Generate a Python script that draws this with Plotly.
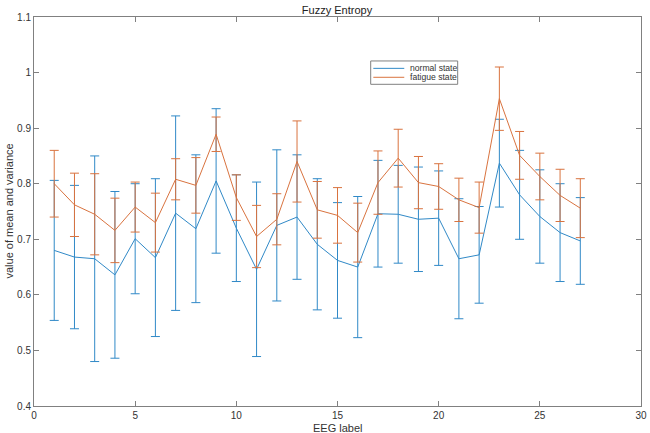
import plotly.graph_objects as go

eeg_label = list(range(1, 28))
normal_mean = [0.680, 0.668, 0.665, 0.636, 0.701, 0.667, 0.747, 0.719, 0.805, 0.720,
               0.646, 0.725, 0.740, 0.691, 0.662, 0.650, 0.746, 0.745, 0.736, 0.738,
               0.665, 0.672, 0.837, 0.780, 0.741, 0.712, 0.697]
normal_std = [0.126, 0.129, 0.185, 0.150, 0.099, 0.142, 0.175, 0.133, 0.130, 0.096,
              0.157, 0.136, 0.112, 0.118, 0.104, 0.127, 0.096, 0.088, 0.094, 0.085,
              0.108, 0.087, 0.079, 0.080, 0.084, 0.088, 0.078]
fatigue_mean = [0.800, 0.762, 0.745, 0.716, 0.758, 0.730, 0.808, 0.797, 0.889, 0.775,
                0.705, 0.736, 0.840, 0.753, 0.743, 0.712, 0.802, 0.846, 0.802, 0.795,
                0.771, 0.757, 0.953, 0.851, 0.813, 0.779, 0.756]
fatigue_std = [0.060, 0.057, 0.073, 0.058, 0.045, 0.053, 0.037, 0.050, 0.031, 0.041,
               0.056, 0.046, 0.073, 0.051, 0.050, 0.053, 0.057, 0.052, 0.047, 0.041,
               0.039, 0.046, 0.057, 0.043, 0.042, 0.047, 0.053]
series_names = ["normal state", "fatigue state"]
x_ticks = [0, 5, 10, 15, 20, 25, 30]
y_ticks = [0.4, 0.5, 0.6, 0.7, 0.8, 0.9, 1.0, 1.1]
y_tick_text = ["0.4", "0.5", "0.6", "0.7", "0.8", "0.9", "1", "1.1"]

BLUE = "#3089c7"
ORANGE = "#d9733f"
AXIS = "#808080"
TXT = "#333333"
FONT = "Liberation Sans"

fig = go.Figure()
fig.add_trace(go.Scatter(
    x=eeg_label, y=normal_mean, mode="lines", name=series_names[0],
    line=dict(color=BLUE, width=1), showlegend=False,
    error_y=dict(type="data", array=normal_std, visible=True,
                 color=BLUE, thickness=1, width=4.5),
))
fig.add_trace(go.Scatter(
    x=eeg_label, y=fatigue_mean, mode="lines", name=series_names[1],
    line=dict(color=ORANGE, width=1), showlegend=False,
    error_y=dict(type="data", array=fatigue_std, visible=True,
                 color=ORANGE, thickness=1, width=4.5),
))

axis_common = dict(
    showline=True, linecolor=AXIS, linewidth=1, mirror="ticks",
    ticks="inside", ticklen=5, tickcolor=AXIS, tickwidth=1,
    showgrid=False, zeroline=False, automargin=False,
    tickfont=dict(family=FONT, size=10, color=TXT),
)

# compact legend box (MATLAB style)
legend_shapes = [
    dict(type="rect", xref="paper", yref="paper", x0=0.5547, x1=0.698,
         y0=0.827, y1=0.887, line=dict(color=AXIS, width=1), fillcolor="white",
         layer="above"),
    dict(type="line", xref="paper", yref="paper", x0=0.559, x1=0.610,
         y0=0.868, y1=0.868, line=dict(color=BLUE, width=1), layer="above"),
    dict(type="line", xref="paper", yref="paper", x0=0.559, x1=0.610,
         y0=0.845, y1=0.845, line=dict(color=ORANGE, width=1), layer="above"),
]
legend_texts = [
    dict(text=series_names[0], xref="paper", yref="paper", x=0.6157, y=0.868,
         xanchor="left", yanchor="middle", showarrow=False,
         font=dict(family=FONT, size=8.6, color=TXT)),
    dict(text=series_names[1], xref="paper", yref="paper", x=0.6157, y=0.845,
         xanchor="left", yanchor="middle", showarrow=False,
         font=dict(family=FONT, size=8.6, color=TXT)),
]

fig.update_layout(
    width=650, height=433,
    margin=dict(l=34, r=9, t=17, b=27),
    paper_bgcolor="white", plot_bgcolor="white",
    font=dict(family=FONT, color=TXT),
    title=dict(text="Fuzzy Entropy", x=0.5185, xanchor="center",
               y=0.977, yanchor="middle",
               font=dict(family=FONT, size=11, color="#222222")),
    xaxis=dict(range=[0, 30], tickvals=x_ticks, **axis_common),
    yaxis=dict(range=[0.4, 1.1], tickvals=y_ticks, ticktext=y_tick_text, **axis_common),
    showlegend=False,
    shapes=legend_shapes,
    annotations=legend_texts + [
        dict(text="EEG label", xref="paper", yref="paper", x=0.5, y=0,
             yshift=-14, yanchor="top", showarrow=False,
             font=dict(family=FONT, size=11, color=TXT)),
        dict(text="value of mean and variance", xref="paper", yref="paper",
             x=0, y=0.5, xshift=-26, xanchor="center", yanchor="middle",
             textangle=-90, showarrow=False,
             font=dict(family=FONT, size=11, color=TXT)),
    ],
)

fig.write_html("out.html",
               config={"displayModeBar": False},
               post_script="document.body.style.margin='0';document.body.style.overflow='hidden';")
